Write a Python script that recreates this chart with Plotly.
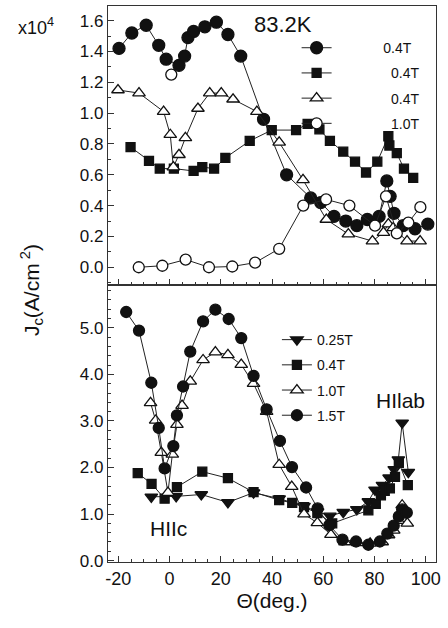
import plotly.graph_objects as go

# ---------------- data ----------------
# Top panel (83.2K), values in units of 1e4 A/cm^2
top_c1_x = [-19.7, -14.7, -9.1, -4.2, -1.3, 3.7, 5.9, 7.2, 9.4, 13.8, 18.3, 22.8, 27.8, 36.7, 45.7, 55.1, 59.0, 64.2, 68.8, 73.1, 77.2, 81.8, 84.8, 86.1, 87.6, 91.2, 95.8, 100.8]
top_c1_y = [1.42, 1.52, 1.57, 1.44, 1.35, 1.31, 1.37, 1.49, 1.53, 1.56, 1.59, 1.51, 1.37, 0.96, 0.60, 0.45, 0.42, 0.33, 0.30, 0.27, 0.31, 0.33, 0.56, 0.46, 0.35, 0.27, 0.25, 0.28]

top_sq_x = [-15.2, -8.0, -3.8, 1.7, 9.4, 12.8, 17.4, 21.8, 31.3, 39.9, 49.4, 53.9, 58.5, 62.6, 67.8, 72.4, 76.7, 81.1, 85.4, 85.8, 88.7, 91.5, 95.1]
top_sq_y = [0.78, 0.69, 0.64, 0.64, 0.625, 0.65, 0.64, 0.71, 0.82, 0.89, 0.89, 0.93, 0.895, 0.82, 0.75, 0.685, 0.615, 0.685, 0.85, 0.79, 0.74, 0.64, 0.58]

top_tr_x = [-20.1, -11.9, -2.3, 0.3, 1.5, 3.7, 6.2, 11.1, 15.7, 20.2, 24.8, 34.1, 42.8, 52.1, 61.2, 69.8, 79.2, 83.5, 85.4, 87.3, 92.7, 97.8]
top_tr_y = [1.15, 1.13, 1.01, 0.86, 0.65, 0.73, 0.84, 1.03, 1.13, 1.13, 1.09, 1.01, 0.81, 0.567, 0.31, 0.215, 0.17, 0.225, 0.28, 0.255, 0.17, 0.17]

top_oc_x = [-12.0, -2.8, 6.3, 15.4, 24.5, 33.4, 42.8, 52.2, 61.1, 70.2, 80.2, 84.5, 88.7, 93.2, 97.9]
top_oc_y = [0.0, 0.01, 0.05, 0.0, 0.005, 0.03, 0.12, 0.40, 0.44, 0.40, 0.27, 0.46, 0.22, 0.29, 0.39]

top_extra_x = [0.7]
top_extra_y = [1.25]

top_names = ["0.4T", "0.4T", "0.4T", "1.0T"]

# Bottom panel
bot_dt_x = [-7.1, 2.6, 12.4, 22.8, 32.8, 42.8, 52.5, 57.8, 62.6, 67.8, 73.1, 77.6, 80.2, 83.1, 85.7, 87.7, 89.3, 90.8, 93.2]
bot_dt_y = [1.37, 1.38, 1.42, 1.25, 1.46, 1.33, 1.17, 1.05, 0.96, 1.04, 1.10, 1.27, 1.52, 1.62, 1.78, 1.96, 2.17, 2.96, 1.90]

bot_sq_x = [-12.4, -7.0, -1.9, 2.9, 12.8, 22.8, 32.8, 42.8, 47.9, 52.5, 57.7, 63.5, 77.6, 80.5, 82.5, 84.0, 86.0, 88.0, 89.5, 93.0]
bot_sq_y = [1.88, 1.65, 1.33, 1.58, 1.91, 1.77, 1.47, 1.30, 1.24, 1.15, 1.02, 0.80, 1.08, 1.22, 1.40, 1.50, 1.55, 1.80, 2.10, 1.62]

bot_tr_x = [-7.4, -5.4, -3.2, -0.6, 1.1, 2.9, 4.9, 8.1, 13.1, 17.9, 22.8, 28.0, 32.8, 37.9, 42.8, 47.7, 52.5, 57.7, 63.0, 68.5, 73.5, 78.3, 83.0, 85.5, 87.5, 89.3, 90.8, 92.8]
bot_tr_y = [3.39, 3.01, 2.32, 1.46, 2.28, 2.92, 3.33, 3.85, 4.31, 4.48, 4.42, 4.21, 3.80, 3.20, 2.06, 1.59, 1.00, 0.81, 0.56, 0.40, 0.38, 0.37, 0.40, 0.55, 0.65, 0.86, 1.19, 0.80]

bot_c_x = [-16.9, -11.9, -7.1, -4.2, -1.9, 1.5, 2.9, 5.3, 8.1, 13.1, 17.9, 23.1, 28.0, 32.8, 37.9, 43.1, 47.8, 53.3, 57.8, 62.4, 67.5, 72.8, 77.6, 82.1, 85.0, 87.5, 89.5, 90.8, 92.6]
bot_c_y = [5.34, 4.94, 3.82, 2.85, 1.98, 2.46, 3.12, 3.74, 4.49, 5.14, 5.39, 5.19, 4.78, 3.97, 3.25, 2.57, 2.01, 1.57, 1.12, 0.76, 0.45, 0.41, 0.34, 0.41, 0.58, 0.75, 0.95, 1.10, 1.03]

bot_names = ["0.25T", "0.4T", "1.0T", "1.5T"]

x_ticks = [-20, 0, 20, 40, 60, 80, 100]
top_yticks = [0.0, 0.2, 0.4, 0.6, 0.8, 1.0, 1.2, 1.4, 1.6]
bot_yticks = [0.0, 1.0, 2.0, 3.0, 4.0, 5.0]

# ---------------- figure ----------------
FONT = "Liberation Sans, Arial, sans-serif"
BLACK = "#111111"
LINE = dict(color="#222222", width=1)
NB = "\u00a0"

fig = go.Figure()

def add(x, y, symbol, size, filled, name, xa, ya, legend, group, showlegend=True, mode="lines+markers"):
    fig.add_trace(go.Scatter(
        x=x, y=y, mode=mode, name=name, xaxis=xa, yaxis=ya,
        legend=legend, legendgroup=group, showlegend=showlegend,
        line=LINE,
        marker=dict(symbol=symbol, size=size,
                    color=BLACK if filled else "white",
                    line=dict(color=BLACK, width=1.3)),
    ))

pad = NB * 12
add(top_c1_x, top_c1_y, "circle", 12, True, pad + top_names[0], "x2", "y2", "legend", "a")
add(top_sq_x, top_sq_y, "square", 9, True, pad + NB * 2 + top_names[1], "x2", "y2", "legend", "b")
add(top_tr_x, top_tr_y, "triangle-up", 11, False, pad + NB * 2 + top_names[2], "x2", "y2", "legend", "c")
add(top_oc_x, top_oc_y, "circle", 11, False, pad + NB * 2 + top_names[3], "x2", "y2", "legend", "d")
add(top_extra_x, top_extra_y, "circle", 11, False, "", "x2", "y2", "legend", "e", showlegend=False, mode="markers")

add(bot_dt_x, bot_dt_y, "triangle-down", 11, True, bot_names[0], "x", "y", "legend2", "f")
add(bot_sq_x, bot_sq_y, "square", 9, True, bot_names[1], "x", "y", "legend2", "g")
add(bot_tr_x, bot_tr_y, "triangle-up", 11, False, bot_names[2], "x", "y", "legend2", "h")
add(bot_c_x, bot_c_y, "circle", 11, True, bot_names[3], "x", "y", "legend2", "i")

split = (562 - 285) / 556.0
axis_common = dict(showline=True, linecolor="#333333", linewidth=1.2, mirror=True,
                   showgrid=False, zeroline=False, ticks="inside", tickcolor="#333333",
                   ticklen=6, tickwidth=1)

fig.update_layout(
    width=448, height=628,
    margin=dict(l=108, r=12, t=6, b=66),
    paper_bgcolor="white", plot_bgcolor="white",
    font=dict(family=FONT, color=BLACK),
    xaxis=dict(domain=[0, 1], anchor="y", range=[-24, 104], tickvals=x_ticks,
               ticktext=[str(v) for v in x_ticks], tickfont=dict(size=18),
               minor=dict(ticks="inside", dtick=5, ticklen=3, tickcolor="#333333"),
               title=dict(text="\u0398(deg.)", font=dict(size=21), standoff=4),
               **axis_common),
    xaxis2=dict(domain=[0, 1], anchor="y2", range=[-24, 104], matches="x",
                showticklabels=False, tickvals=x_ticks,
                minor=dict(ticks="inside", dtick=5, ticklen=3, tickcolor="#333333"),
                **axis_common),
    yaxis=dict(domain=[0, split], anchor="x", range=[-0.03, 5.92], tickvals=bot_yticks,
               tickformat=".1f", tickfont=dict(size=17),
               minor=dict(ticks="inside", dtick=0.2, ticklen=3, tickcolor="#333333"),
               **axis_common),
    yaxis2=dict(domain=[split, 1], anchor="x2", range=[-0.115, 1.695], tickvals=top_yticks,
                tickformat=".1f", tickfont=dict(size=17),
                minor=dict(ticks="inside", dtick=0.1, ticklen=3, tickcolor="#333333"),
                **axis_common),
    legend=dict(x=0.575, y=0.953, xanchor="left", yanchor="top", bgcolor="rgba(0,0,0,0)",
                font=dict(size=14, family=FONT), traceorder="grouped", tracegroupgap=4,
                itemsizing="trace"),
    legend2=dict(x=0.515, y=0.428, xanchor="left", yanchor="top", bgcolor="rgba(0,0,0,0)",
                 font=dict(size=14, family=FONT), traceorder="grouped", tracegroupgap=4,
                 itemsizing="trace"),
    showlegend=True,
    annotations=[
        dict(text="x10<sup>4</sup>", xref="paper", yref="paper", x=(36 - 108) / 328, y=(562 - 27) / 556,
             xanchor="center", yanchor="middle", showarrow=False, font=dict(size=18)),
        dict(text="83.2K", xref="paper", yref="paper", x=(283 - 108) / 328, y=(562 - 24) / 556,
             xanchor="center", yanchor="middle", showarrow=False, font=dict(size=22)),
        dict(text="HIlab", xref="paper", yref="paper", x=(400 - 108) / 328, y=(562 - 400) / 556,
             xanchor="center", yanchor="middle", showarrow=False, font=dict(size=21)),
        dict(text="HIIc", xref="paper", yref="paper", x=(168 - 108) / 328, y=(562 - 528) / 556,
             xanchor="center", yanchor="middle", showarrow=False, font=dict(size=21)),
        dict(text="J<sub>c</sub>(A/cm<sup> 2</sup>)", xref="paper", yref="paper",
             x=(32 - 108) / 328, y=(562 - 290) / 556, textangle=-90,
             xanchor="center", yanchor="middle", showarrow=False, font=dict(size=21)),
    ],
)

fig.write_html("out.html")
